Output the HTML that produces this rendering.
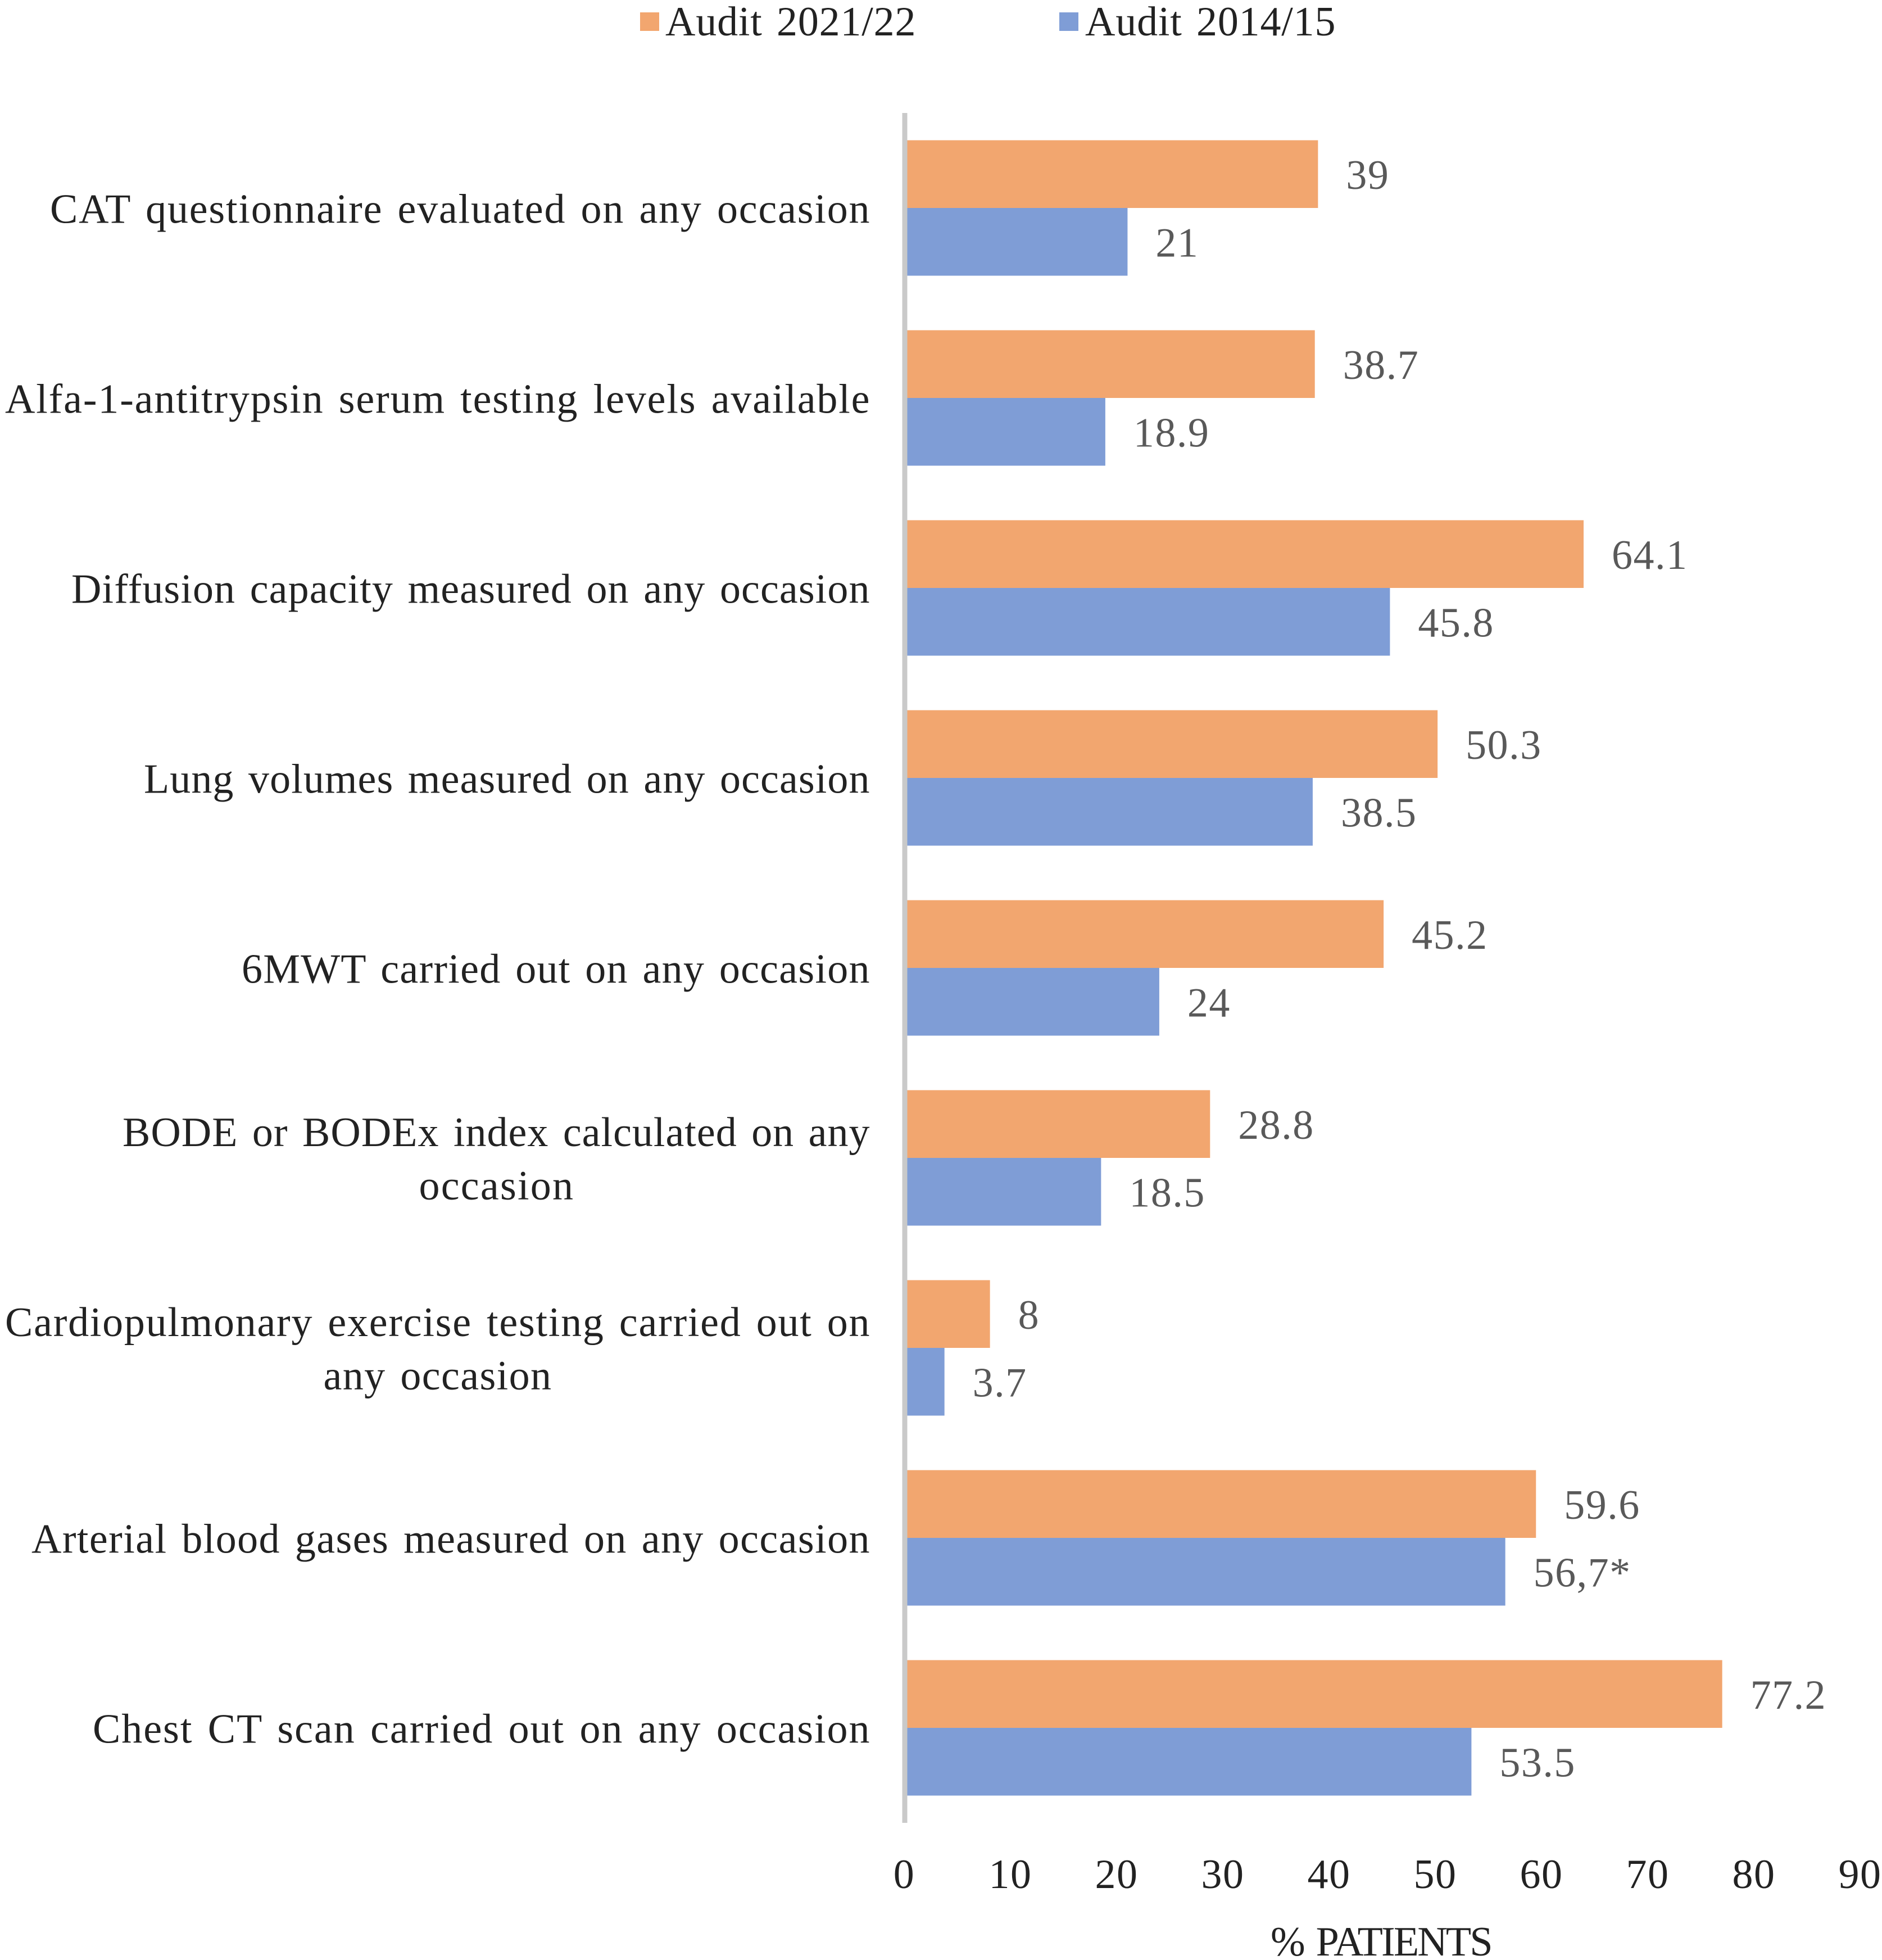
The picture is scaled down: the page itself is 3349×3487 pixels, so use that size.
<!DOCTYPE html>
<html lang="en">
<head>
<meta charset="utf-8">
<title>Audit comparison chart</title>
<style>
  html, body { margin: 0; padding: 0; background: #fff; }
  svg { display: block; }
  text { font-family: "Liberation Serif", "Noto Serif CJK JP", serif; font-size: 74px; letter-spacing: 1.5px; word-spacing: 6px; }
</style>
</head>
<body>
<svg id="chart" xmlns="http://www.w3.org/2000/svg" width="3349" height="3487" viewBox="0 0 3349 3487">
  <rect x="0" y="0" width="3349" height="3487" fill="#ffffff"/>
  <g>
    <rect x="1139" y="22" width="34" height="33" fill="#F2A66F"/>
    <text x="1184" y="63" textLength="447" lengthAdjust="spacing" fill="#222222">Audit 2021/22</text>
    <rect x="1885" y="22" width="34" height="33" fill="#7F9DD6"/>
    <text x="1931" y="63" textLength="447" lengthAdjust="spacing" fill="#222222">Audit 2014/15</text>
  </g>
  <text x="2261" y="3479" textLength="397" lengthAdjust="spacing" fill="#222222">% PATIENTS</text>
</svg>
<script>
const categories = [
  ["CAT questionnaire evaluated on any occasion"],
  ["Alfa-1-antitrypsin serum testing levels available"],
  ["Diffusion capacity measured on any occasion"],
  ["Lung volumes measured on any occasion"],
  ["6MWT carried out on any occasion"],
  ["BODE or BODEx index calculated on any", "occasion"],
  ["Cardiopulmonary exercise testing carried out on", "any occasion"],
  ["Arterial blood gases measured on any occasion"],
  ["Chest CT scan carried out on any occasion"]
];
const audit2021 = [39, 38.7, 64.1, 50.3, 45.2, 28.8, 8, 59.6, 77.2];
const audit2014 = [21, 18.9, 45.8, 38.5, 24, 18.5, 3.7, 56.7, 53.5];
const labels2021 = ["39", "38.7", "64.1", "50.3", "45.2", "28.8", "8", "59.6", "77.2"];
const labels2014 = ["21", "18.9", "45.8", "38.5", "24", "18.5", "3.7", "56,7*", "53.5"];
const xTicks = [0, 10, 20, 30, 40, 50, 60, 70, 80, 90];

/* Rendered text widths of each category-label line; typography fit only. */
const lineFit = [[1460], [1540], [1422], [1293], [1119], [1331, 276], [1540, 407], [1493], [1384]];

const NS = "http://www.w3.org/2000/svg";
const svg = document.getElementById("chart");
const plotTop = 201, plotBottom = 3243, x0 = 1611, unit = 18.83, barH = 120.5;
const axisCenter = 1610, labelRight = 1549;
const x = v => x0 + v * unit;
const tickX = v => 1609 + v * 18.9;
const bandCenter = i => plotTop + (plotBottom - plotTop) / categories.length * (i + 0.5);

function makeRect(px, py, w, h, fill) {
  const r = document.createElementNS(NS, "rect");
  r.setAttribute("x", px);
  r.setAttribute("y", py);
  r.setAttribute("width", w);
  r.setAttribute("height", h);
  r.setAttribute("fill", fill);
  svg.appendChild(r);
  return r;
}
function makeText(str, px, py, anchor, fill) {
  const t = document.createElementNS(NS, "text");
  t.textContent = str;
  t.setAttribute("x", px);
  t.setAttribute("y", py);
  t.setAttribute("text-anchor", anchor);
  t.setAttribute("fill", fill);
  svg.appendChild(t);
  return t;
}
function fitLine(t, w) {
  t.setAttribute("textLength", w);
  t.setAttribute("lengthAdjust", "spacing");
}

categories.forEach((lines, i) => {
  const c = bandCenter(i);

  const b1 = makeRect(x(0), c - barH, x(audit2021[i]) - x(0), barH, "#F2A66F");
  
  

  const b2 = makeRect(x(0), c, x(audit2014[i]) - x(0), barH, "#7F9DD6");
  
  

  const v1 = makeText(labels2021[i], x(audit2021[i]) + 50, c - barH / 2 + 26, "start", "#595959");
  
  

  const v2 = makeText(labels2014[i], x(audit2014[i]) + 50, c + barH / 2 + 26, "start", "#595959");
  
  

  const w1 = lineFit[i][0];
  const left = labelRight - w1;
  if (lines.length === 1) {
    const t = makeText(lines[0], left, c + 26.7, "start", "#222222");
    fitLine(t, w1);
    
    
  } else {
    const t1 = makeText(lines[0], left, c - 21, "start", "#222222");
    fitLine(t1, w1);
    
    
    const w2 = lineFit[i][1];
    const t2 = makeText(lines[1], left + (w1 - w2) / 2, c + 74, "start", "#222222");
    fitLine(t2, w2);
    
    
  }
});

const axis = makeRect(axisCenter - 4.5, plotTop, 9, plotBottom - plotTop, "#C9C9C9");



xTicks.forEach(v => {
  const t = makeText(String(v), tickX(v), 3359, "middle", "#222222");
  
  
});
</script>
</body>
</html>
